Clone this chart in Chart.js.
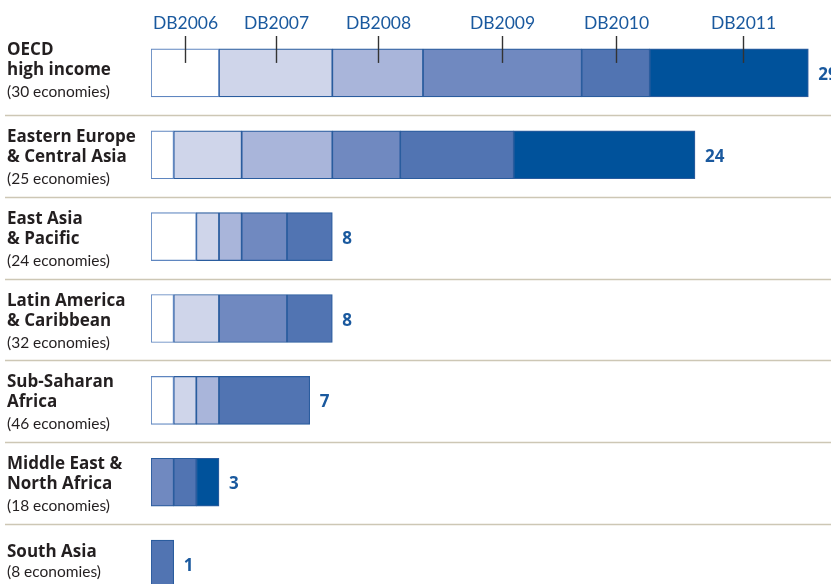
<!DOCTYPE html>
<html><head><meta charset="utf-8">
<script src="https://cdn.jsdelivr.net/npm/chart.js@4"></script>
<style>
html,body{margin:0;padding:0;background:#fff;width:831px;height:584px;overflow:hidden}
#wrap{width:831px;height:584px;overflow:hidden;position:relative}
canvas{display:block}
</style></head><body>
<div id="wrap"><canvas id="c" width="831" height="620"></canvas></div>
<script>
const years = ["DB2006","DB2007","DB2008","DB2009","DB2010","DB2011"];
const regionNames = [["OECD","high income"],["Eastern Europe","& Central Asia"],["East Asia","& Pacific"],["Latin America","& Caribbean"],["Sub-Saharan","Africa"],["Middle East &","North Africa"],["South Asia"]];
const economies = [30,25,24,32,46,18,8];
const db2006 = [3,1,2,1,1,null,null];
const db2007 = [5,3,1,2,1,null,null];
const db2008 = [4,4,1,null,1,null,null];
const db2009 = [7,3,2,3,null,1,null];
const db2010 = [3,5,2,2,4,1,1];
const db2011 = [7,8,null,null,null,1,null];
const seriesValues = [db2006,db2007,db2008,db2009,db2010,db2011];

const yearColors = ["#ffffff","#cfd5ea","#a9b5da","#7089c0","#5174b2","#00529b"];
const yearBorders = ["#5f86c0","#2a5c9e","#2a5c9e","#2a5c9e","#2a5c9e","#2a5c9e"];
const BLUE_TEXT = "#1a599e";
const BOLD_FONT = "'Open Sans', Lato, sans-serif";
const REG_FONT = "Lato, 'Open Sans', sans-serif";

const decor = {
  id: 'decor',
  beforeDatasetsDraw(chart){
    const {ctx, scales:{y}} = chart;
    ctx.save();
    ctx.strokeStyle = '#cdc7b5'; ctx.lineWidth = 1.5;
    for (let i = 1; i < regionNames.length; i++){
      const yy = Math.round((y.getPixelForValue(i-1) + y.getPixelForValue(i))/2) + 1.5;
      ctx.beginPath(); ctx.moveTo(5, yy); ctx.lineTo(chart.width, yy); ctx.stroke();
    }
    ctx.restore();
  },
  afterDatasetsDraw(chart){
    const {ctx, scales:{x,y}} = chart;
    ctx.save();
    // row labels
    ctx.textAlign = 'left'; ctx.textBaseline = 'alphabetic'; ctx.fillStyle = '#231f20';
    regionNames.forEach((names, i) => {
      const yc = y.getPixelForValue(i);
      let base = yc + (names.length >= 2 ? -13 : -7) + (i === 0 ? -5 : 0);
      ctx.font = "bold 17px " + BOLD_FONT;
      names.forEach((t, j) => {
        ctx.fillText(t, 7, base + j * 20);
      });
      ctx.font = "15.5px " + REG_FONT;
      ctx.fillText(`(${economies[i]} economies)`, 7, base + (names.length - 1) * 20 + (names.length >= 2 ? 22 : 20));
    });
    // totals
    ctx.fillStyle = BLUE_TEXT; ctx.font = "bold 17px " + BOLD_FONT; ctx.textBaseline = 'alphabetic';
    regionNames.forEach((_, i) => {
      const total = seriesValues.reduce((s, arr) => s + (arr[i] || 0), 0);
      ctx.fillText(String(total), x.getPixelForValue(total) + 10, y.getPixelForValue(i) + 7);
    });
    // header labels over first bar
    const y0 = y.getPixelForValue(0);
    let cum = 0;
    const extra = [0,0,0,0,0,14];
    years.forEach((yr, k) => {
      const v = seriesValues[k][0] || 0;
      const cx = Math.round(x.getPixelForValue(cum + v/2) + extra[k]) + 0.5;
      cum += v;
      ctx.fillStyle = BLUE_TEXT; ctx.font = "17.5px " + REG_FONT; ctx.textAlign = 'center';
      ctx.textBaseline = 'middle';
      ctx.fillText(yr, cx, 23);
      ctx.strokeStyle = '#333'; ctx.lineWidth = 1.4;
      ctx.beginPath(); ctx.moveTo(cx, 36); ctx.lineTo(cx, y0 - 10); ctx.stroke();
    });
    ctx.restore();
  }
};

new Chart(document.getElementById('c'), {
  type: 'bar',
  data: {
    labels: regionNames.map(n => n.join(' ')),
    datasets: years.map((yr, k) => ({
      label: yr,
      data: seriesValues[k],
      backgroundColor: yearColors[k],
      borderColor: yearBorders[k],
      borderWidth: 1.2,
      borderSkipped: false,
      barThickness: 48
    }))
  },
  options: {
    indexAxis: 'y',
    responsive: false,
    animation: false,
    layout: { padding: { left: 151, right: 0, top: 32, bottom: 15 } },
    plugins: { legend: { display: false }, tooltip: { enabled: false } },
    scales: {
      x: { stacked: true, min: 0, max: 30, display: false },
      y: { stacked: true, display: false }
    }
  },
  plugins: [decor]
});
</script>
</body></html>
